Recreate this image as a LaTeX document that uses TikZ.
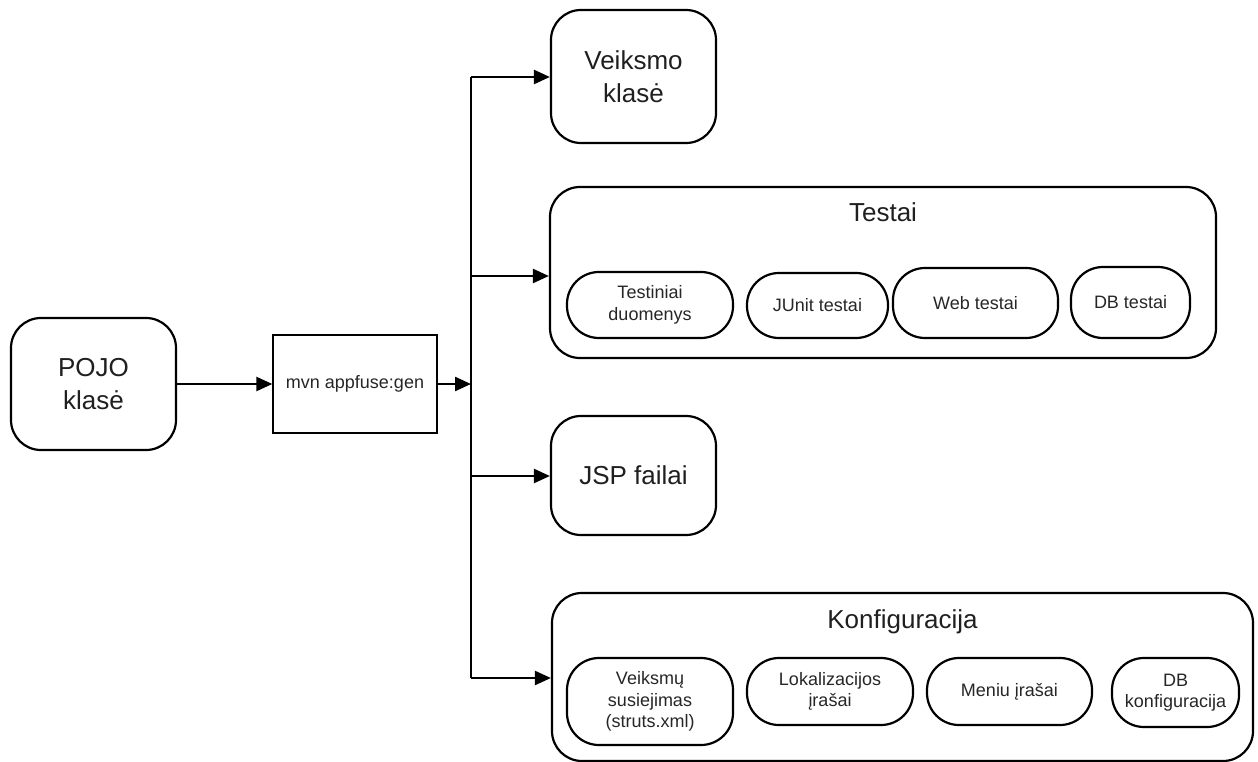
\documentclass[tikz,border=0pt]{standalone}
\usepackage{fontspec}
\setmainfont{Liberation Sans}
\usetikzlibrary{arrows.meta}
\begin{document}
\begin{tikzpicture}[x=1pt,y=-1pt,
  bigtext/.style={font=\fontsize{26}{33}\selectfont, text=black!88},
  smalltext/.style={font=\fontsize{18}{21.5}\selectfont, text=black!85},
  roundbox/.style={draw, line width=2.2pt, rounded corners=30pt, align=center,
    inner sep=0pt, bigtext},
  pill/.style={draw, line width=2.2pt, rounded corners=32pt, align=center,
    inner sep=0pt, smalltext},
  plainbox/.style={draw, line width=1.3pt, align=center, inner sep=0pt, smalltext},
  arr/.style={line width=2.4pt, -{Triangle[length=16pt,width=14pt]}},
  spine/.style={line width=2.4pt}]
\useasboundingbox (0,0) rectangle (1258,762);

% source class and generator
\node[roundbox, minimum width=165pt, minimum height=132pt] (pojo) at (93.5,384) {POJO\\klasė};
\node[plainbox, minimum width=164pt, minimum height=98pt] (gen) at (355,384) {mvn appfuse:gen};

% generated artefacts
\node[roundbox, minimum width=165pt, minimum height=133pt] (veik) at (633.5,76.5) {Veiksmo\\klasė};
\node[roundbox, minimum width=666pt, minimum height=171pt] (testai) at (883,272.5) {};
\node[bigtext] (testaiT) at (883,212) {Testai};
\node[roundbox, minimum width=165pt, minimum height=119pt] (jsp) at (633.5,475.5) {JSP failai};
\node[roundbox, minimum width=701pt, minimum height=168pt] (konf) at (902.5,677) {};
\node[bigtext] (konfT) at (902.5,622) {Konfiguracija};

% tests
\node[pill, minimum width=166pt, minimum height=66pt] (t1) at (650,305) {Testiniai\\duomenys};
\node[pill, minimum width=141pt, minimum height=65pt] (t2) at (817.5,305.5) {JUnit testai};
\node[pill, minimum width=165pt, minimum height=70pt] (t3) at (975.5,303) {Web testai};
\node[pill, minimum width=119pt, minimum height=71pt] (t4) at (1130.5,302.5) {DB testai};

% configuration
\node[pill, minimum width=166pt, minimum height=87pt] (k1) at (650,701.5) {Veiksmų\\susiejimas\\(struts.xml)};
\node[pill, minimum width=166pt, minimum height=67pt] (k2) at (830,691.5) {Lokalizacijos\\įrašai};
\node[pill, minimum width=165pt, minimum height=67pt] (k3) at (1009.5,691.5) {Meniu įrašai};
\node[pill, minimum width=127pt, minimum height=69pt] (k4) at (1175.5,692.5) {DB\\konfiguracija};

% distribution spine
\coordinate (j) at (471,384);
\coordinate (b1) at (471,77);
\coordinate (b2) at (471,276);
\coordinate (b3) at (471,476);
\coordinate (b4) at (471,678);

\draw[arr] (pojo.east) -- (gen.west);
\draw[arr] (gen.east) -- (j);
\draw[spine] (b1) -- (b4);
\draw[arr] (b1) -- (b1 -| veik.west);
\draw[arr] (b2) -- (b2 -| testai.west);
\draw[arr] (b3) -- (b3 -| jsp.west);
\draw[arr] (b4) -- (b4 -| konf.west);
\end{tikzpicture}
\end{document}
